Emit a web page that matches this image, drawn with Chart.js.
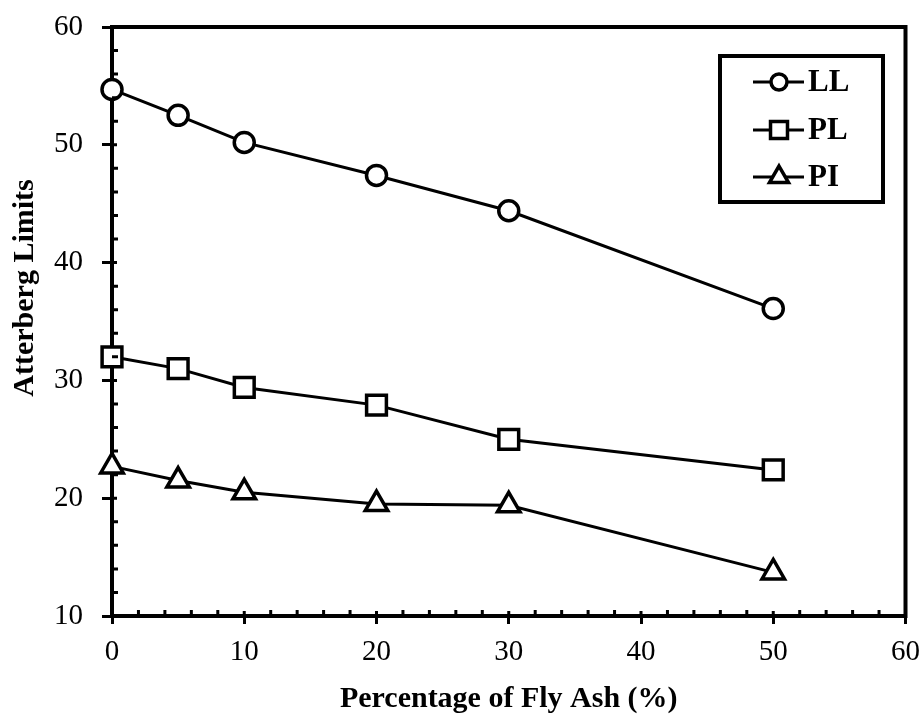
<!DOCTYPE html>
<html>
<head>
<meta charset="utf-8">
<script src="https://cdn.jsdelivr.net/npm/chart.js@4/dist/chart.umd.min.js"></script>
<style>
  html, body { margin: 0; padding: 0; background: #ffffff; }
  #wrap { position: relative; width: 923px; height: 714px; }
</style>
</head>
<body>
<div id="wrap"><canvas id="c" width="923" height="714"></canvas></div>
<script>
// ---- data ----
const flyAsh = [0, 5, 10, 20, 30, 50];
const llValues = [54.7, 52.5, 50.2, 47.4, 44.4, 36.1];
const plValues = [32.0, 31.0, 29.4, 27.9, 25.0, 22.4];
const piValues = [22.7, 21.5, 20.5, 19.5, 19.4, 13.7];
const seriesLabels = ['LL', 'PL', 'PI'];
const xTitle = 'Percentage of Fly Ash (%)';
const yTitle = 'Atterberg Limits';
const xRange = [0, 60];
const yRange = [10, 60];
const majorStep = 10;
const minorStep = 2;

const SERIF = "'Liberation Serif', 'Times New Roman', serif";

function toXY(xs, ys) { return xs.map((x, i) => ({ x: x, y: ys[i] })); }

const baseDs = {
  showLine: true,
  borderColor: '#000',
  borderWidth: 3,
  pointBackgroundColor: '#fff',
  pointBorderColor: '#000',
  pointBorderWidth: 3.5,
  clip: false,
  tension: 0
};

const datasets = [
  Object.assign({}, baseDs, { label: seriesLabels[0], data: toXY(flyAsh, llValues), pointStyle: 'circle', pointRadius: 10, legendRadius: 8 }),
  Object.assign({}, baseDs, { label: seriesLabels[1], data: toXY(flyAsh, plValues), pointStyle: 'rect', pointRadius: 14, legendRadius: 12 }),
  Object.assign({}, baseDs, { label: seriesLabels[2], data: toXY(flyAsh, piValues), pointStyle: 'triangle', pointRadius: 13, legendRadius: 11 })
];

function zeroPad(scale) {
  scale.paddingTop = 0; scale.paddingBottom = 0;
  scale.paddingLeft = 0; scale.paddingRight = 0;
}

const framePlugin = {
  id: 'frame',
  afterDraw(chart) {
    const ctx = chart.ctx;
    const a = chart.chartArea;
    const xs = chart.scales.x, ys = chart.scales.y;
    ctx.save();
    ctx.strokeStyle = '#000';
    ctx.lineCap = 'butt';
    // top & right frame
    ctx.lineWidth = 4;
    ctx.beginPath();
    ctx.moveTo(a.left - 2, a.top);
    ctx.lineTo(a.right, a.top);
    ctx.moveTo(a.right, a.top - 2);
    ctx.lineTo(a.right, a.bottom + 2);
    ctx.stroke();
    // minor ticks (inside) and inner half of major ticks
    ctx.lineWidth = 3;
    ctx.beginPath();
    for (let v = yRange[0]; v <= yRange[1]; v += minorStep) {
      const py = ys.getPixelForValue(v);
      const isMajor = (v - yRange[0]) % majorStep === 0;
      if (v === yRange[0] || v === yRange[1]) continue;
      ctx.moveTo(a.left, py);
      ctx.lineTo(a.left + (isMajor ? 5 : 6), py);
    }
    for (let v = xRange[0]; v <= xRange[1]; v += minorStep) {
      const px = xs.getPixelForValue(v);
      const isMajor = (v - xRange[0]) % majorStep === 0;
      if (v === xRange[0] || v === xRange[1]) continue;
      ctx.moveTo(px, a.bottom);
      ctx.lineTo(px, a.bottom - (isMajor ? 5 : 6));
    }
    ctx.stroke();

    // y title
    ctx.fillStyle = '#000';
    ctx.font = "bold 30px " + SERIF;
    ctx.textAlign = 'center';
    ctx.textBaseline = 'middle';
    ctx.translate(25, 288);
    ctx.rotate(-Math.PI / 2);
    ctx.fillText(yTitle, 0, 0);
    ctx.restore();

    // legend box
    ctx.save();
    const bx = 720, by = 56, bw = 163, bh = 146;
    ctx.fillStyle = '#fff';
    ctx.fillRect(bx, by, bw, bh);
    ctx.strokeStyle = '#000';
    ctx.lineWidth = 4;
    ctx.strokeRect(bx, by, bw, bh);
    const rowY = [82, 130, 177];
    chart.data.datasets.forEach((ds, i) => {
      const cy = rowY[i];
      ctx.strokeStyle = '#000';
      ctx.lineWidth = 3;
      ctx.beginPath();
      ctx.moveTo(753, cy);
      ctx.lineTo(804, cy);
      ctx.stroke();
      ctx.fillStyle = '#fff';
      ctx.lineWidth = 3.5;
      Chart.helpers.drawPoint(ctx, { pointStyle: ds.pointStyle, radius: ds.legendRadius, rotation: 0, borderWidth: 3.5 }, 779, cy);
      ctx.fillStyle = '#000';
      ctx.font = "bold 31px " + SERIF;
      ctx.textAlign = 'left';
      ctx.textBaseline = 'middle';
      ctx.fillText(ds.label, 808, cy + 1);
    });
    ctx.restore();
  }
};

new Chart(document.getElementById('c'), {
  type: 'scatter',
  data: { datasets: datasets },
  options: {
    responsive: false,
    animation: false,
    layout: { padding: { top: 27, right: 16, left: 0, bottom: 0 } },
    plugins: { legend: { display: false }, tooltip: { enabled: false } },
    scales: {
      x: {
        type: 'linear',
        min: xRange[0], max: xRange[1],
        ticks: { stepSize: majorStep, color: '#000', padding: 11, font: { family: SERIF, size: 29 }, maxRotation: 0 },
        grid: { drawOnChartArea: false, drawTicks: true, tickLength: 8, tickWidth: 3, tickColor: '#000' },
        border: { display: true, color: '#000', width: 4 },
        title: { display: true, text: xTitle, color: '#000', font: { family: SERIF, size: 30, weight: 'bold' }, padding: { top: 0, bottom: -3 } },
        afterFit(scale) { scale.height = 98; zeroPad(scale); }
      },
      y: {
        type: 'linear',
        min: yRange[0], max: yRange[1],
        ticks: { stepSize: majorStep, color: '#000', padding: 19, font: { family: SERIF, size: 29 } },
        grid: { drawOnChartArea: false, drawTicks: true, tickLength: 10, tickWidth: 3, tickColor: '#000' },
        border: { display: true, color: '#000', width: 4 },
        afterFit(scale) { scale.width = 112; zeroPad(scale); }
      }
    }
  },
  plugins: [framePlugin]
});
</script>
</body>
</html>
